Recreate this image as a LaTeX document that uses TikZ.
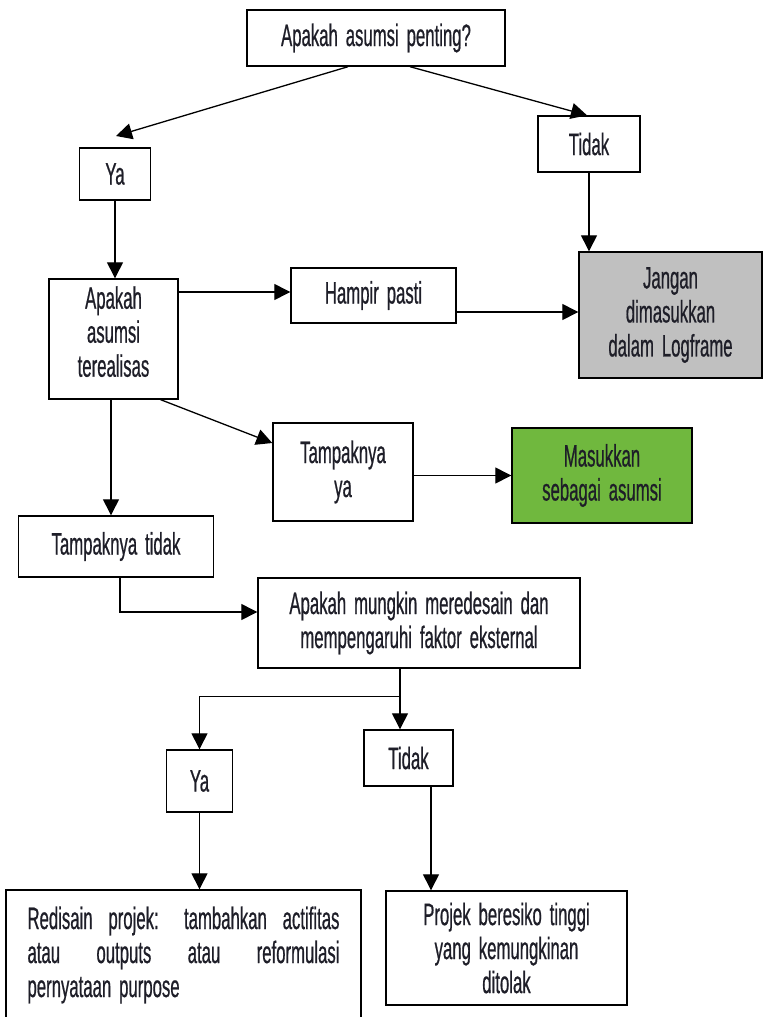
\documentclass[tikz,border=0pt]{standalone}
\usepackage{fontspec}
\newfontfamily\agency[FakeStretch=0.54,FakeBold=0.6,WordSpace=1.7]{Liberation Sans}
\usetikzlibrary{arrows.meta}
\definecolor{boxgray}{RGB}{192,192,192}
\definecolor{boxgreen}{RGB}{112,184,62}
\definecolor{inkdark}{RGB}{30,30,40}
\begin{document}
\begin{tikzpicture}[x=1pt,y=-1pt,
  box/.style={draw=black, line width=1.4pt, fill=white, inner sep=0pt, align=center,
    font=\agency\fontsize{31}{34}\selectfont, text=inkdark},
  arr/.style={line width=1.3pt, -{Triangle[length=16pt,width=16pt]}},
  link/.style={line width=1.3pt}]
\useasboundingbox (0,0) rectangle (763,1017);
\clip (0,0) rectangle (763,1017);

% decision boxes
\node[box, minimum width=258pt, minimum height=56pt] (A) at (376,38) {Apakah asumsi penting?};
\node[box, minimum width=102pt, minimum height=56pt] (B) at (589,144) {Tidak};
\node[box, minimum width=71pt, minimum height=52pt] (C) at (115,174) {Ya};
\node[box, minimum width=129pt, minimum height=120pt, text depth=15pt] (D) at (113.5,339) {Apakah\\asumsi\\terealisas};
\node[box, minimum width=165pt, minimum height=55pt] (E) at (373.5,295.5) {Hampir pasti};
\node[box, fill=boxgray, minimum width=183pt, minimum height=126pt] (F) at (670.5,315) {Jangan\\dimasukkan\\dalam Logframe};
\node[box, minimum width=140pt, minimum height=98pt] (G) at (343,472) {Tampaknya\\ya};
\node[box, fill=boxgreen, minimum width=180pt, minimum height=95pt] (H) at (602,475.5) {Masukkan\\sebagai asumsi};
\node[box, minimum width=195pt, minimum height=61pt] (I) at (116,546.5) {Tampaknya tidak};
\node[box, minimum width=322pt, minimum height=90pt] (J) at (419,623) {Apakah mungkin meredesain dan\\mempengaruhi faktor eksternal};
\node[box, minimum width=66pt, minimum height=62pt] (K) at (199.5,781) {Ya};
\node[box, minimum width=89pt, minimum height=56pt] (L) at (408.5,758) {Tidak};
\node[box, align=left, minimum width=355pt, minimum height=130pt] (M) at (183.5,955)
  {\makebox[312pt][s]{Redisain projek: tambahkan actifitas}\\
   \makebox[312pt][s]{atau outputs atau reformulasi}\\
   \makebox[312pt][l]{pernyataan purpose}};
\node[box, minimum width=241pt, minimum height=114pt] (N) at (506.5,948) {Projek beresiko tinggi\\yang kemungkinan\\ditolak};

% connectors
\coordinate (yaTip) at (116,136);
\draw[arr] ([xshift=-28pt]A.south) -- (yaTip);
\draw[arr] ([xshift=34pt]A.south) -- ([xshift=-2pt]B.north);
\draw[arr] (B.south) -- (B.south |- F.north);
\draw[arr] (C.south) -- (C.south |- D.north);

\coordinate (eIn) at ([yshift=3.5pt]E.west);
\draw[arr] (D.east |- eIn) -- (eIn);
\coordinate (eOut) at ([yshift=-16.5pt]E.east);
\draw[arr] (eOut) -- (F.west |- eOut);

\draw[arr] ([xshift=-18pt]D.south east) -- ([yshift=29pt]G.west);
\draw[arr] (G.east |- H.west) -- (H.west);

\coordinate (dOut) at ([xshift=-2.5pt]D.south);
\draw[arr] (dOut) -- (dOut |- I.north);
\draw[arr] ([xshift=4pt]I.south) |- ([yshift=11pt]J.west);

\coordinate (jOut) at ([xshift=-19pt]J.south);
\coordinate (split) at ([yshift=-28pt]jOut);
\draw[arr] (jOut) -- (jOut |- L.north);
\draw[arr] (split) -| (K.north);

\draw[arr] (K.south) -- (K.south |- M.north);
\coordinate (lOut) at ([xshift=22.5pt]L.south);
\draw[arr] (lOut) -- (lOut |- N.north);
\end{tikzpicture}
\end{document}
